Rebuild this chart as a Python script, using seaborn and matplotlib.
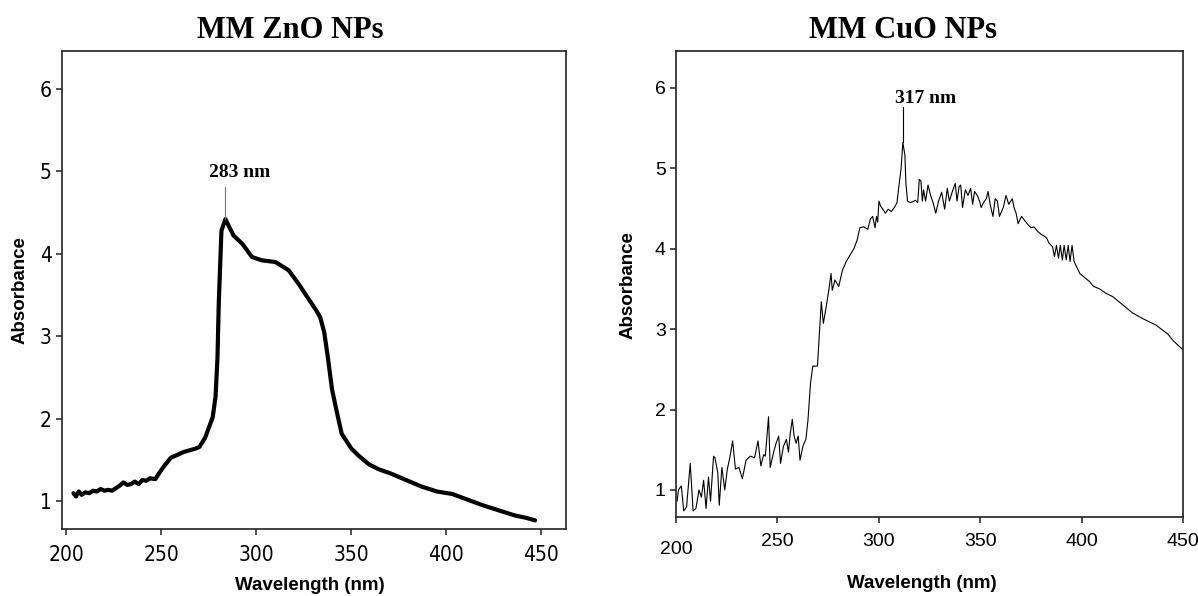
import matplotlib
matplotlib.use("Agg")
import matplotlib.pyplot as plt
import pandas as pd
import seaborn as sns

# ---------------- data ----------------
zno_wavelength = [203.7, 205, 206.5, 208, 210, 212, 214, 216, 218, 220, 222, 224, 226, 228,
                  230, 232, 234, 236, 238, 240, 242, 244, 246.8, 248.7, 251.5, 255, 258,
                  261.9, 265, 268, 270, 273, 277, 278.5, 279.5, 280.2, 281.6, 283.7, 286,
                  288, 292.6, 297.7, 302.9, 310, 317, 323, 325.2, 331.6, 333.6, 335.7,
                  337.7, 339.8, 341.8, 344.9, 350, 354, 359.2, 364.3, 370.5, 378.7, 386.9,
                  395.1, 403.1, 411.3, 419.6, 427.8, 436, 442.2, 446.7]
zno_absorbance = [1.10, 1.06, 1.12, 1.08, 1.11, 1.10, 1.13, 1.12, 1.15, 1.13, 1.14, 1.13,
                  1.16, 1.19, 1.23, 1.20, 1.21, 1.24, 1.21, 1.26, 1.25, 1.28, 1.27, 1.34,
                  1.43, 1.53, 1.56, 1.60, 1.62, 1.64, 1.66, 1.77, 2.02, 2.27, 2.73, 3.41,
                  4.28, 4.42, 4.31, 4.22, 4.12, 3.96, 3.92, 3.90, 3.80, 3.61, 3.53, 3.31,
                  3.23, 3.05, 2.73, 2.36, 2.14, 1.82, 1.64, 1.55, 1.45, 1.39, 1.34, 1.26,
                  1.18, 1.12, 1.09, 1.02, 0.95, 0.89, 0.83, 0.80, 0.77]

cuo_wavelength = [200.5, 201.2, 202.6, 203.8, 205.2, 207.0, 208.4, 209.8, 211.3, 212.5,
                  213.6, 214.8, 216.0, 217.0, 218.5, 219.2, 220.6, 221.3, 222.6, 224.0,
                  225.3, 226.5, 227.9, 229.3, 231.0, 232.7, 234.5, 236.6, 238.7, 240.4,
                  241.8, 243.2, 244.0, 245.6, 246.4, 248.1, 249.3, 250.6, 251.5, 252.9,
                  254.4, 255.4, 256.3, 257.3, 258.2, 259.2, 260.2, 261.1, 262.5, 264.0,
                  265.0, 266.3, 267.4, 269.7, 271.6, 272.6, 273.9, 275.1, 276.4, 277.0,
                  278.3, 280.2, 282.0, 283.9, 285.8, 287.7, 289.3, 290.6, 292.5, 294.5,
                  295.8, 296.9, 298.1, 298.8, 299.4, 300.0, 300.8, 301.9, 303.2, 304.6,
                  306.1, 307.6, 308.9, 309.9, 310.9, 311.8, 312.8, 313.3, 314.1, 315.6,
                  317.2, 318.0, 319.1, 319.9, 320.7, 321.4, 322.0, 323.0, 324.2, 325.5,
                  326.7, 328.0, 329.4, 330.9, 332.4, 333.7, 334.7, 336.2, 337.6, 338.5,
                  339.5, 340.3, 341.2, 342.6, 343.9, 345.2, 346.2, 347.1, 348.5, 349.6,
                  350.4, 351.5, 352.9, 353.8, 354.8, 356.2, 357.3, 358.4, 359.4, 361.3,
                  362.6, 364.0, 365.7, 366.6, 367.6, 368.6, 370.3, 371.8, 373.7, 375.0,
                  376.4, 378.0, 379.8, 381.2, 382.7, 383.8, 385.6, 386.5, 387.5, 388.5,
                  389.4, 390.4, 391.3, 392.3, 393.3, 394.2, 395.2, 396.2, 397.1, 398.3,
                  399.0, 400.0, 401.9, 403.8, 405.8, 408.7, 411.5, 415.4, 421.2, 425.0,
                  430.8, 436.5, 442.3, 445.2, 450.0]
cuo_absorbance = [0.86, 1.00, 1.05, 0.74, 0.79, 1.33, 0.74, 0.77, 1.00, 0.91,
                  1.12, 0.77, 1.16, 0.86, 1.42, 1.40, 1.21, 0.81, 1.28, 1.00,
                  1.26, 1.40, 1.61, 1.26, 1.28, 1.14, 1.37, 1.42, 1.40, 1.61,
                  1.30, 1.44, 1.42, 1.91, 1.28, 1.47, 1.58, 1.67, 1.33, 1.54,
                  1.63, 1.47, 1.70, 1.88, 1.67, 1.58, 1.67, 1.37, 1.54, 1.63,
                  1.86, 2.33, 2.54, 2.54, 3.34, 3.07, 3.26, 3.45, 3.69, 3.48,
                  3.61, 3.53, 3.73, 3.84, 3.92, 4.00, 4.11, 4.26, 4.27, 4.24,
                  4.37, 4.40, 4.26, 4.40, 4.33, 4.59, 4.53, 4.49, 4.44, 4.49,
                  4.46, 4.51, 4.57, 4.79, 4.99, 5.32, 5.16, 4.81, 4.59, 4.57,
                  4.59, 4.60, 4.57, 4.86, 4.84, 4.59, 4.73, 4.59, 4.79, 4.66,
                  4.57, 4.44, 4.59, 4.70, 4.49, 4.75, 4.59, 4.71, 4.81, 4.59,
                  4.77, 4.79, 4.51, 4.73, 4.66, 4.75, 4.55, 4.71, 4.66, 4.59,
                  4.51, 4.57, 4.62, 4.71, 4.55, 4.40, 4.62, 4.59, 4.40, 4.51,
                  4.66, 4.55, 4.62, 4.51, 4.44, 4.31, 4.40, 4.35, 4.29, 4.26,
                  4.27, 4.22, 4.18, 4.16, 4.13, 4.07, 4.02, 3.90, 4.04, 3.88,
                  4.04, 3.86, 4.04, 3.86, 4.04, 3.84, 4.04, 3.84, 3.79, 3.73,
                  3.69, 3.67, 3.63, 3.59, 3.53, 3.50, 3.45, 3.40, 3.28, 3.20,
                  3.12, 3.05, 2.94, 2.85, 2.74]

x_ticks = [200, 250, 300, 350, 400, 450]
y_ticks = [1, 2, 3, 4, 5, 6]
titles = ["MM ZnO NPs", "MM CuO NPs"]
peak_labels = ["283 nm", "317 nm"]
x_label = "Wavelength (nm)"
y_label = "Absorbance"

# ---------------- style ----------------
sns.set_theme(style="ticks")
plt.rcParams["font.family"] = ["Liberation Sans", "DejaVu Sans"]
for key in ("text.color", "axes.labelcolor", "xtick.color", "ytick.color", "axes.edgecolor"):
    plt.rcParams[key] = "black"
SERIF = ["Liberation Serif", "DejaVu Serif"]

fig = plt.figure(figsize=(11.98, 5.96), dpi=100)
fig.patch.set_facecolor("white")
ax1 = fig.add_axes([0.0518, 0.1116, 0.4207, 0.8034])
ax2 = fig.add_axes([0.5643, 0.132, 0.4234, 0.783])

df_zno = pd.DataFrame({"Wavelength": zno_wavelength, "Absorbance": zno_absorbance})
df_cuo = pd.DataFrame({"Wavelength": cuo_wavelength, "Absorbance": cuo_absorbance})

sns.lineplot(data=df_zno, x="Wavelength", y="Absorbance", ax=ax1, color="black",
             linewidth=3.0, sort=False, estimator=None)
sns.lineplot(data=df_cuo, x="Wavelength", y="Absorbance", ax=ax2, color="black",
             linewidth=0.8, sort=False, estimator=None)

ax1.set_xlim(197.7, 463.0)
ax2.set_xlim(200, 450)
for ax in (ax1, ax2):
    ax.set_ylim(0.66, 6.46)
    ax.set_xticks(x_ticks)
    ax.set_yticks(y_ticks)
    ax.set_xlabel("")
    ax.set_ylabel("")
    ax.set_facecolor("white")
    for s in ax.spines.values():
        s.set_visible(True)
        s.set_linewidth(1.2)
        s.set_color("#222222")
    ax.tick_params(axis="both", direction="out", length=4, width=1.1,
                   color="#222222", labelcolor="black")
    ax.tick_params(axis="x", pad=7)
    ax.tick_params(axis="y", pad=3.5)

for lab in ax1.get_xticklabels() + ax1.get_yticklabels():
    lab.set_family("DejaVu Sans")
    lab.set_stretch("condensed")
    lab.set_fontsize(15)
for lab in ax2.get_xticklabels() + ax2.get_yticklabels():
    lab.set_fontsize(14)
ax2.xaxis.get_major_ticks()[0].label1.set_y(-0.018)

# peak markers and labels
pk1 = zno_absorbance.index(max(zno_absorbance))
ax1.plot([zno_wavelength[pk1]] * 2, [zno_absorbance[pk1], 4.81], color="#777777", lw=0.8)
ax1.text(zno_wavelength[pk1] + 7.5, 4.99, peak_labels[0], ha="center", va="center",
         family=SERIF, fontweight="bold", fontsize=14)

pk2 = cuo_absorbance.index(max(cuo_absorbance))
ax2.plot([cuo_wavelength[pk2]] * 2, [cuo_absorbance[pk2], 5.76], color="black", lw=0.8)
ax2.text(cuo_wavelength[pk2] + 11, 5.86, peak_labels[1], ha="center", va="center",
         family=SERIF, fontweight="bold", fontsize=14)

# titles and axis labels
fig.text(290 / 1198, 1 - 30 / 596, titles[0], ha="center", va="center",
         family=SERIF, fontweight="bold", fontsize=22)
fig.text(903 / 1198, 1 - 30 / 596, titles[1], ha="center", va="center",
         family=SERIF, fontweight="bold", fontsize=22)
fig.text(310 / 1198, 1 - 585 / 596, x_label, ha="center", va="center",
         fontweight="bold", fontsize=13.5)
fig.text(922 / 1198, 1 - 583 / 596, x_label, ha="center", va="center",
         fontweight="bold", fontsize=13.5)
fig.text(20 / 1198, 1 - 290 / 596, y_label, ha="center", va="center", rotation=90,
         fontweight="bold", fontsize=13.5)
fig.text(628 / 1198, 1 - 285 / 596, y_label, ha="center", va="center", rotation=90,
         fontweight="bold", fontsize=13.5)

fig.savefig("out.png", dpi=100, facecolor="white")
